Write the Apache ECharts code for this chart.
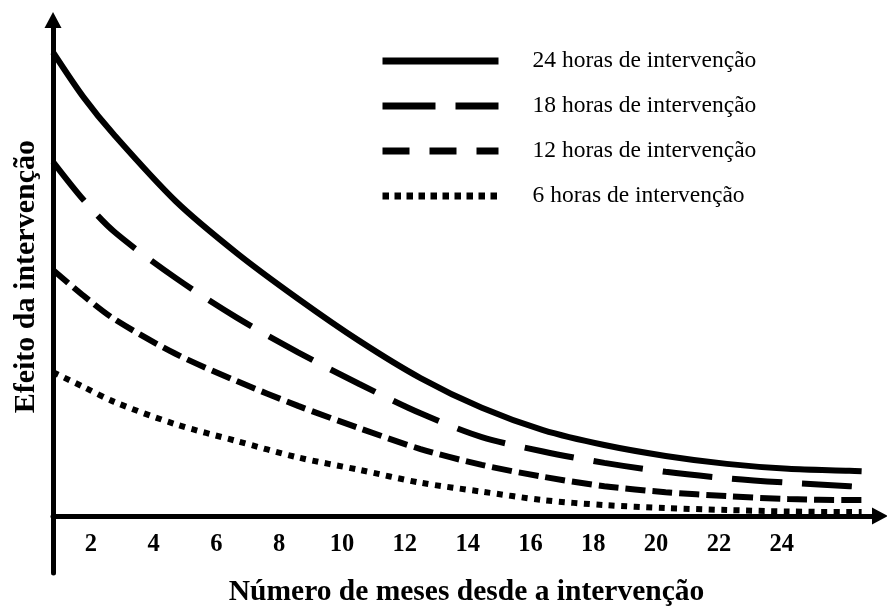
<!DOCTYPE html>
<html>
<head>
<meta charset="utf-8">
<script src="https://cdn.jsdelivr.net/npm/echarts@6/dist/echarts.min.js"></script>
<style>
html,body{margin:0;padding:0;background:#fff;}
#chart{width:887px;height:606px;}
</style>
</head>
<body>
<div id="chart"></div>
<script>
// ---- data ----
var months = [0, 1, 2, 4, 6, 8, 10, 12, 14, 16, 18, 20, 22, 24, 26, 26.4];
var h24 = [93.5, 84.4, 76.8, 63.5, 53.0, 43.8, 35.3, 27.8, 21.8, 17.3, 14.3, 12.1, 10.5, 9.5, 9.1, 9.0];
var h18 = [71.4, 63.7, 57.3, 48.0, 40.0, 33.0, 26.6, 20.7, 15.9, 13.0, 10.7, 8.9, 7.6, 6.7, 6.0, 5.8];
var h12 = [49.6, 44.4, 39.7, 32.7, 27.2, 22.2, 17.7, 13.5, 10.3, 7.9, 6.0, 4.8, 4.0, 3.4, 3.2, 3.2];
var h6  = [29.0, 26.0, 23.0, 18.5, 15.1, 11.8, 9.3, 6.7, 4.9, 3.2, 2.2, 1.6, 1.2, 0.9, 0.8, 0.8];
var seriesNames = ['24 horas de intervenção', '18 horas de intervenção', '12 horas de intervenção', '6 horas de intervenção'];
var tickLabels = [2, 4, 6, 8, 10, 12, 14, 16, 18, 20, 22, 24];
var xTitle = 'Número de meses desde a intervenção';
var yTitle = 'Efeito da intervenção';

function pairs(ys) { return months.map(function (m, i) { return [m, ys[i]]; }); }

var serif = 'Liberation Serif, Times New Roman, serif';
var dashes = ['solid', [50, 20], [20, 7], [6, 6.5]];
var legendDashes = ['solid', [53, 20], [27, 20], [6.5, 5.5]];
var allValues = [h24, h18, h12, h6];

var chart = echarts.init(document.getElementById('chart'), null, {renderer: 'canvas'});

var series = allValues.map(function (vals, i) {
  return {
    name: seriesNames[i],
    type: 'line',
    xAxisIndex: 0,
    yAxisIndex: 0,
    data: pairs(vals),
    smooth: 0.3,
    symbol: 'none',
    silent: true,
    lineStyle: {color: '#000', width: 6, type: dashes[i], cap: 'butt'}
  };
});

var legendData = seriesNames.map(function (n, i) {
  return {
    name: n,
    itemStyle: {opacity: 0},
    lineStyle: {color: '#000', width: 7, type: legendDashes[i], cap: 'butt', opacity: 1}
  };
});

chart.setOption({
  animation: false,
  backgroundColor: '#fff',
  grid: [
    {left: 53, right: 7, top: 20, bottom: 33, containLabel: false, outerBoundsMode: 'none'},
    {left: 53, right: 7, top: 20, bottom: 90, containLabel: false, outerBoundsMode: 'none'}
  ],
  legend: {
    orient: 'vertical',
    left: 374,
    top: 44,
    itemWidth: 116,
    itemHeight: 10,
    itemGap: 21,
    selectedMode: false,
    data: legendData,
    textStyle: {color: '#000', fontFamily: serif, fontSize: 23.5, lineHeight: 22, padding: [0, 0, 0, 29]}
  },
  xAxis: [
    {
      gridIndex: 0, type: 'value', min: 0, max: 27, position: 'bottom',
      axisLine: {onZero: true, lineStyle: {color: '#000', width: 5}, symbol: ['none', 'triangle'], symbolSize: [17, 16], symbolOffset: [0, 0]},
      axisTick: {show: false}, axisLabel: {show: false}, splitLine: {show: false}
    },
    {
      gridIndex: 1, type: 'value', min: 0.796, max: 27.13, position: 'bottom',
      axisLine: {show: false, onZero: false},
      axisTick: {show: false},
      splitLine: {show: false},
      axisLabel: {
        customValues: tickLabels,
        margin: 16,
        color: '#000', fontFamily: serif, fontWeight: 'bold', fontSize: 24.5
      },
      name: xTitle,
      nameLocation: 'middle',
      nameGap: 61,
      nameTextStyle: {color: '#000', fontFamily: serif, fontWeight: 'bold', fontSize: 29.5}
    }
  ],
  yAxis: [
    {
      gridIndex: 0, type: 'value', min: -11.5, max: 100, position: 'left',
      axisLine: {onZero: false, lineStyle: {color: '#000', width: 5}, symbol: ['none', 'triangle'], symbolSize: [17, 16]},
      axisTick: {show: false}, axisLabel: {show: false}, splitLine: {show: false}
    },
    {
      gridIndex: 1, type: 'value', min: 0, max: 100, show: false
    }
  ],
  graphic: [{
    type: 'text',
    left: 11,
    top: 140,
    rotation: Math.PI / 2,
    style: {text: yTitle, fill: '#000', font: 'bold 30px ' + serif}
  }],
  series: series
});
</script>
</body>
</html>
